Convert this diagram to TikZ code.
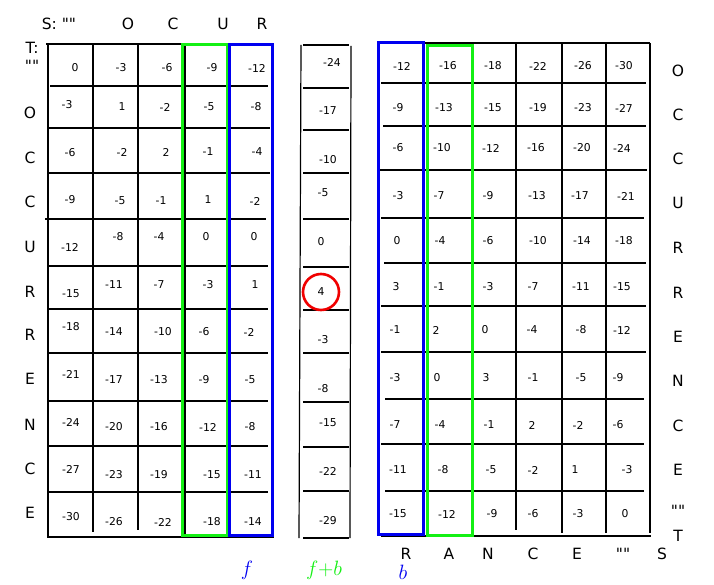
\documentclass[tikz,border=0pt]{standalone}
\usepackage{fontspec}
\setmainfont{DejaVu Sans}[Ligatures=TeXOff]
\definecolor{fgreen}{RGB}{20,240,20}
\definecolor{fblue}{RGB}{0,0,240}
\definecolor{fred}{RGB}{240,0,0}
\newcommand\dq{\symbol{34}\symbol{34}}
\begin{document}
\begin{tikzpicture}[x=1pt,y=-1pt,
  gridline/.style={line width=1.2pt, black},
  num/.style={font=\fontsize{10.8}{12}\selectfont, inner sep=0pt},
  lab/.style={font=\fontsize{15.5}{17}\selectfont, inner sep=0pt},
  greenbox/.style={draw=fgreen, line width=3pt},
  bluebox/.style={draw=fblue, line width=3pt},
  flab/.style={font=\fontsize{22}{24}\selectfont, inner sep=0pt}]
\useasboundingbox (0,0) rectangle (714,585);

% ---------- left grid lines ----------
\foreach \y/\a/\b in {44/46/272, 86/50/268, 128/48/270, 173/48/270, 219/45/266, 266/48/268,
  309/47/268, 353/48/268, 401/47/268, 446/48/268, 492/48/268, 537/47/274}
  \draw[gridline] (\a,\y) -- (\b,\y);
\foreach \x/\b in {48/537, 93/532, 138/530, 185/535}
  \draw[gridline] (\x,44) -- (\x,\b);

% ---------- middle column lines ----------
\draw[gridline] (301,45) -- (299,538);
\draw[gridline] (351,46) -- (350,538);
\foreach \y in {45, 88, 130, 173, 219, 267, 310, 353, 402, 447, 491, 538}
  \draw[gridline] (303,\y) -- (349,\y);

% ---------- right grid lines ----------
\foreach \y/\a/\b in {43/378/650, 83/381/646, 126/383/646, 170/380/647, 218/381/644, 263/384/646,
  306/381/646, 352/381/646, 399/385/644, 444/381/644, 491/385/644, 536/381/651}
  \draw[gridline] (\a,\y) -- (\b,\y);
\foreach \x/\b in {423/534, 472/534, 516/530, 562/533, 606/533, 650/533}
  \draw[gridline] (\x,43) -- (\x,\b);

% ---------- coloured frames ----------
\draw[greenbox] (182,45) rectangle (227,535);
\draw[bluebox] (229,45) rectangle (272,535);
\draw[bluebox] (378,43) rectangle (423,534);
\draw[greenbox] (427,46) rectangle (472,535);

% ---------- left grid values ----------
\foreach \v/\x/\y [count=\i] in {
  0/75/68, -3/121/68, -6/167/68, -9/212/68, -12/257/68,
  -3/67/105, 1/122/107, -2/165/107, -5/209/107, -8/256/107,
  -6/70/153, -2/122/152, 2/166/152, -1/208/152, -4/257/152,
  -9/70/200, -5/120/201, -1/161/201, 1/208/200, -2/255/201,
  -12/70/247, -8/118/237, -4/159/237, 0/206/237, 0/254/237,
  -15/71/294, -11/114/285, -7/159/285, -3/208/285, 1/255/285,
  -18/71/327, -14/114/332, -10/163/332, -6/204/332, -2/249/332,
  -21/71/374, -17/114/380, -13/159/380, -9/204/380, -5/250/380,
  -24/71/422, -20/114/427, -16/159/427, -12/208/427, -8/250/427,
  -27/71/469, -23/114/475, -19/159/475, -15/212/475, -11/253/475,
  -30/71/517, -26/114/522, -22/163/522, -18/212/522, -14/253/522}
  \node[num] (L\i) at (\x,\y) {\v};

% ---------- middle values ----------
\foreach \v/\x/\y [count=\i] in {
  -24/332/62, -17/328/111, -10/328/160, -5/323/193, 0/321/242, 4/321/292,
  -3/323/340, -8/323/389, -15/328/423, -22/328/471, -29/328/521}
  \node[num] (M\i) at (\x,\y) {\v};
\draw[fred, line width=2.6pt] (M6) circle[radius=18pt];

% ---------- right grid values ----------
\foreach \v/\x/\y [count=\i] in {
  -12/402/66, -16/448/66, -18/493/66, -22/538/66, -26/583/66, -30/624/66,
  -9/398/108, -13/444/108, -15/493/108, -19/538/108, -23/583/108, -27/624/108,
  -6/398/148, -10/442/148, -12/491/148, -16/536/148, -20/582/148, -24/622/148,
  -3/398/196, -7/439/196, -9/488/196, -13/537/196, -17/580/196, -21/626/196,
  0/397/241, -4/440/241, -6/488/241, -10/538/241, -14/582/241, -18/624/241,
  3/396/287, -1/439/287, -3/488/287, -7/533/287, -11/581/287, -15/622/287,
  -1/395/330, 2/436/330, 0/485/330, -4/532/330, -8/581/330, -12/622/330,
  -3/395/378, 0/437/378, 3/486/378, -1/533/378, -5/581/378, -9/618/378,
  -7/395/425, -4/440/425, -1/489/425, 2/532/425, -2/578/425, -6/618/425,
  -11/398/470, -8/443/470, -5/491/470, -2/533/470, 1/575/470, -3/627/470,
  -15/398/514, -12/447/514, -9/492/514, -6/533/514, -3/578/514, 0/625/514}
  \node[num] (R\i) at (\x,\y) {\v};

% ---------- left labels ----------
\node[lab] (hs) at (59,24) {S: \dq};
\foreach \t/\x [count=\i] in {O/128, C/173, U/223, R/262}
  \node[lab] (hc\i) at (\x,24) {\t};
\node[lab] (tT) at (32,48) {T:};
\node[lab] (tq) at (32,66) {\dq};
\foreach \t/\y [count=\i] in {O/113, C/158, C/202, U/247, R/292, R/335, E/379, N/425, C/469, E/513}
  \node[lab] (lr\i) at (30,\y) {\t};

% ---------- right labels ----------
\foreach \t/\y [count=\i] in {O/71, C/115, C/159, U/203, R/248, R/293, E/337, N/381, C/426, E/470, \dq/511, T/536}
  \node[lab] (rr\i) at (678,\y) {\t};
\foreach \t/\x [count=\i] in {R/406, A/449, N/488, C/533, E/577, \dq/623, S/662}
  \node[lab] (rc\i) at (\x,554) {\t};

% ---------- bottom legend ----------
\node[flab, text=fblue] (lf) at (247,570) {$f$};
\node[flab, text=fgreen] (lfb) at (324,570) {$f{+}b$};
\node[flab, text=fblue] (lb) at (403,572) {$b$};
\end{tikzpicture}
\end{document}
